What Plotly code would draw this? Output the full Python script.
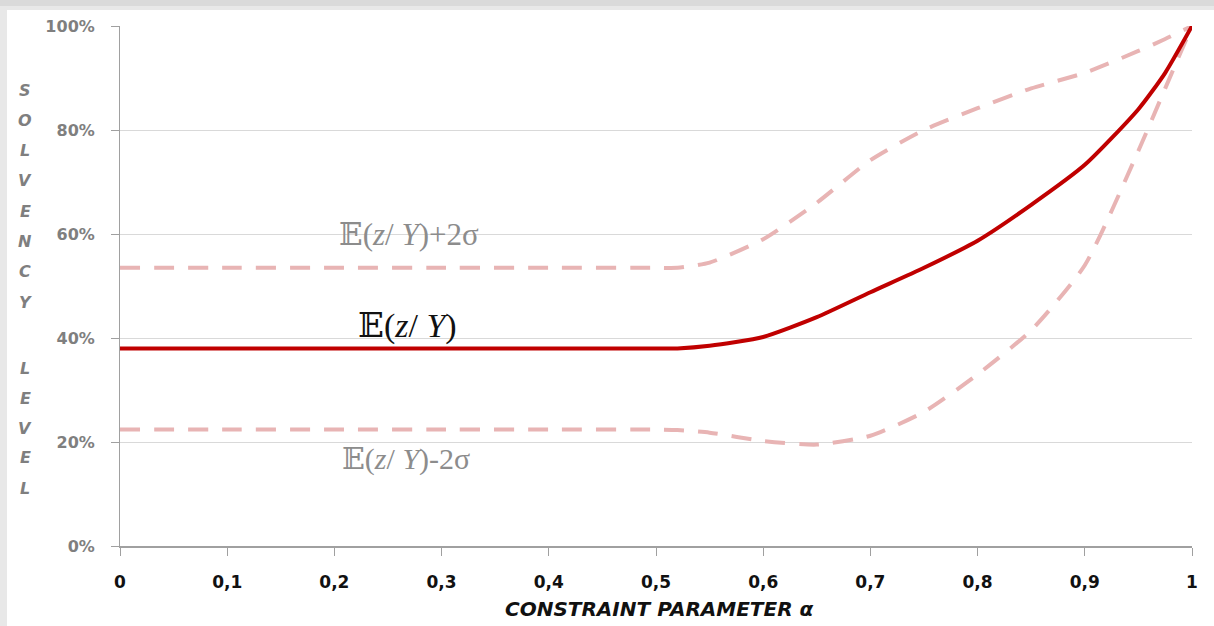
import plotly.graph_objects as go

alpha = [0.0, 0.1, 0.2, 0.3, 0.4, 0.5, 0.52, 0.55, 0.6, 0.65, 0.7, 0.75, 0.8, 0.85, 0.9, 0.95, 0.975, 1.0]
mean_level = [0.38, 0.38, 0.38, 0.38, 0.38, 0.38, 0.38, 0.385, 0.402, 0.44, 0.488, 0.535, 0.587, 0.656, 0.733, 0.84, 0.91, 1.0]
upper_level = [0.535, 0.535, 0.535, 0.535, 0.535, 0.535, 0.535, 0.545, 0.59, 0.66, 0.742, 0.80, 0.842, 0.88, 0.91, 0.952, 0.975, 1.0]
lower_level = [0.224, 0.224, 0.224, 0.224, 0.224, 0.224, 0.223, 0.218, 0.202, 0.195, 0.212, 0.258, 0.33, 0.415, 0.54, 0.76, 0.88, 1.0]

x_ticks = [0, 0.1, 0.2, 0.3, 0.4, 0.5, 0.6, 0.7, 0.8, 0.9, 1.0]
x_tick_labels = ["0", "0,1", "0,2", "0,3", "0,4", "0,5", "0,6", "0,7", "0,8", "0,9", "1"]
y_ticks = [0, 0.2, 0.4, 0.6, 0.8, 1.0]
y_tick_labels = ["0%", "20%", "40%", "60%", "80%", "100%"]
y_title_letters = ["S", "O", "L", "V", "E", "N", "C", "Y", "", "L", "E", "V", "E", "L"]

RED = "#C00000"
PINK = "#E8B4B4"

W, H = 1214, 626
L, R, T, B = 120, 22, 26, 80
PW, PH = W - L - R, H - T - B


def px_x(px):
    return (px - L) / PW


def px_y(py):
    return (H - B - py) / PH


fig = go.Figure()
fig.add_trace(go.Scatter(x=alpha, y=upper_level, mode="lines",
                         line=dict(color=PINK, width=4, dash="20px,14px", shape="spline", smoothing=0.6),
                         cliponaxis=False, showlegend=False))
fig.add_trace(go.Scatter(x=alpha, y=lower_level, mode="lines",
                         line=dict(color=PINK, width=4, dash="20px,14px", shape="spline", smoothing=0.6),
                         cliponaxis=False, showlegend=False))
fig.add_trace(go.Scatter(x=alpha, y=mean_level, mode="lines",
                         line=dict(color=RED, width=4, shape="spline", smoothing=0.6),
                         cliponaxis=False, showlegend=False))

serif = "Liberation Serif, DejaVu Serif, serif"
fig.add_annotation(x=px_x(337), y=px_y(234), xref="paper", yref="paper", text="𝔼(<i>z</i>/ <i>Y</i>)+2σ",
                   showarrow=False, xanchor="left", yanchor="middle",
                   font=dict(family=serif, size=31, color="#8c8c8c"))
fig.add_annotation(x=px_x(356), y=px_y(326), xref="paper", yref="paper", text="𝔼(<i>z</i>/ <i>Y</i>)",
                   showarrow=False, xanchor="left", yanchor="middle",
                   font=dict(family=serif, size=34, color="#111111"))
fig.add_annotation(x=px_x(340), y=px_y(459), xref="paper", yref="paper", text="𝔼(<i>z</i>/ <i>Y</i>)-2σ",
                   showarrow=False, xanchor="left", yanchor="middle",
                   font=dict(family=serif, size=30, color="#8c8c8c"))

# vertical y-axis title, one letter per line
for i, letter in enumerate(y_title_letters):
    if not letter:
        continue
    py = 90 + i * 30.3 if i < 8 else 368 + (i - 9) * 30
    fig.add_annotation(x=px_x(25), y=px_y(py), xref="paper", yref="paper",
                       text=f"<b><i>{letter}</i></b>", showarrow=False,
                       xanchor="center", yanchor="middle",
                       font=dict(family="DejaVu Sans, sans-serif", size=16, color="#7f7f7f"))

# light frame shading like the original
fig.add_shape(type="rect", xref="paper", yref="paper", x0=px_x(0), x1=px_x(W),
              y0=px_y(6), y1=px_y(0), fillcolor="#dadada", line_width=0, layer="below")
fig.add_shape(type="rect", xref="paper", yref="paper", x0=px_x(0), x1=px_x(W),
              y0=px_y(10), y1=px_y(6), fillcolor="#e8e8e8", line_width=0, layer="below")
fig.add_shape(type="rect", xref="paper", yref="paper", x0=px_x(0), x1=px_x(7),
              y0=px_y(H), y1=px_y(10), fillcolor="#e8e8e8", line_width=0, layer="below")

# x-axis title as fixed-position text
fig.add_annotation(x=px_x(659), y=px_y(609), xref="paper", yref="paper",
                   text="<b><i>CONSTRAINT PARAMETER α</i></b>", showarrow=False,
                   xanchor="center", yanchor="middle",
                   font=dict(family="DejaVu Sans, sans-serif", size=20, color="#111111"))

tick_font = "DejaVu Sans, sans-serif"
fig.update_layout(
    width=W, height=H,
    margin=dict(l=L, r=R, t=T, b=B, autoexpand=False),
    paper_bgcolor="white", plot_bgcolor="white",
    xaxis=dict(range=[0, 1], tickvals=x_ticks, ticktext=x_tick_labels, automargin=False,
               showgrid=False, zeroline=False, showline=True, linecolor="#a0a0a0", linewidth=2,
               ticks="outside", ticklen=8, tickcolor="#a0a0a0", tickwidth=1,
               ticklabelstandoff=12,
               tickfont=dict(family=tick_font, size=17, color="#111111", weight="bold")),
    yaxis=dict(range=[0, 1], tickvals=y_ticks, ticktext=y_tick_labels, automargin=False,
               showgrid=True, gridcolor="#d9d9d9", gridwidth=1, zeroline=False,
               showline=True, linecolor="#a0a0a0", linewidth=1,
               ticks="outside", ticklen=8, tickcolor="#a0a0a0",
               ticklabelstandoff=13,
               tickfont=dict(family=tick_font, size=16, color="#7f7f7f", weight="bold")),
)

fig.write_html("out.html", config={"displayModeBar": False},
               post_script="document.body.style.margin='0';document.body.style.overflow='hidden';")
